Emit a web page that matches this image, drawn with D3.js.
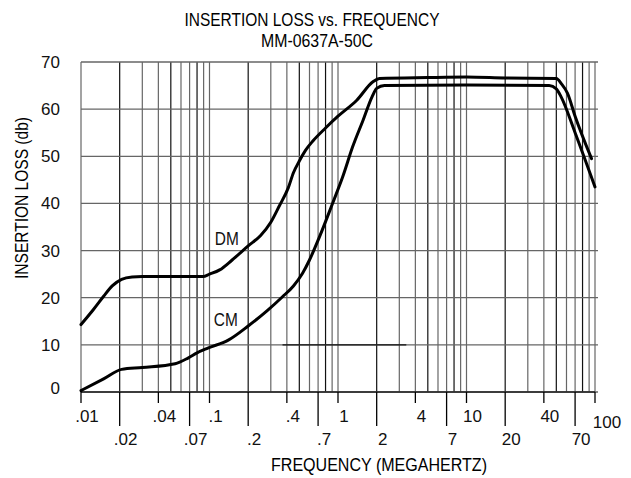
<!DOCTYPE html>
<html>
<head>
<meta charset="utf-8">
<script src="https://cdn.jsdelivr.net/npm/d3@7"></script>
<style>
  html, body { margin: 0; padding: 0; background: #fff; }
  svg { display: block; font-family: "Liberation Sans", Arial, sans-serif; }
</style>
</head>
<body>
<svg id="chart" width="631" height="478"></svg>
<script>
// ---- data ----
const titleText = "INSERTION LOSS vs. FREQUENCY";
const subtitleText = "MM-0637A-50C";
const xTitle = "FREQUENCY (MEGAHERTZ)";
const yTitle = "INSERTION LOSS (db)";

const yTicks = [0, 10, 20, 30, 40, 50, 60, 70];
const xTicksUpper = [0.01, 0.04, 0.1, 0.4, 1, 4, 10, 40];
const xTicksLower = [0.02, 0.07, 0.2, 0.7, 2, 7, 20, 70];
const xTickEnd = [100];
const xTickLabels = {0.01: ".01", 0.02: ".02", 0.04: ".04", 0.07: ".07", 0.1: ".1", 0.2: ".2",
  0.4: ".4", 0.7: ".7", 1: "1", 2: "2", 4: "4", 7: "7", 10: "10", 20: "20", 40: "40", 70: "70", 100: "100"};

// DM curve (frequency MHz, insertion loss dB)
const dmFreq = [0.01, 0.0125, 0.015, 0.0175, 0.0207, 0.025, 0.03, 0.05, 0.089, 0.1, 0.12, 0.15, 0.2, 0.25, 0.3, 0.35, 0.41, 0.45, 0.5, 0.56, 0.64, 0.8, 1.0, 1.4, 1.87, 2.1, 5, 10, 20, 50, 55, 61, 70, 94];
const dmLoss = [14.3, 17.5, 20.3, 22.5, 23.9, 24.4, 24.5, 24.5, 24.5, 25.0, 25.9, 28.0, 31.0, 33.2, 36.0, 39.5, 43.3, 46.5, 49.0, 51.3, 53.3, 56.0, 58.5, 61.9, 65.8, 66.5, 66.7, 66.8, 66.6, 66.5, 65.3, 63.4, 58.5, 49.5];

// CM curve
const cmFreq = [0.01, 0.015, 0.0207, 0.03, 0.054, 0.068, 0.08, 0.097, 0.14, 0.2, 0.28, 0.37, 0.45, 0.53, 0.6, 0.72, 0.91, 1.09, 1.3, 1.57, 1.84, 2.0, 2.3, 10, 44, 50, 54.5, 70, 100];
const cmLoss = [0.3, 2.8, 4.8, 5.2, 6.0, 7.2, 8.3, 9.3, 11.0, 14.0, 17.2, 20.2, 22.5, 25.2, 28.0, 33.0, 40.1, 45.7, 52.0, 57.7, 62.6, 64.4, 65.0, 65.1, 65.0, 64.3, 62.6, 55.0, 43.5];

const curveLabels = ["DM", "CM"];
// darker segment on the 10 dB grid line (as printed)
const darkSegFreq = [0.37, 3.4];
const darkSegLoss = 10;

// ---- chart ----
const svg = d3.select("#chart");
const x = d3.scaleLog().domain([0.01, 100]).range([81, 595]);
const y = d3.scaleLinear().domain([0, 70]).range([392, 62]);

// vertical grid lines: 1..9 x each decade
const gridX = [];
[0.01, 0.1, 1, 10].forEach(d => { for (let k = 1; k <= 9; k++) gridX.push(+(d * k).toPrecision(3)); });
gridX.push(100);

svg.append("g").selectAll("line").data(gridX).join("line")
  .attr("x1", d => x(d)).attr("x2", d => x(d))
  .attr("y1", y(70)).attr("y2", y(0))
  .attr("stroke", (d, i) => (i % 3 === 1 ? "#111" : "#666"))
  .attr("stroke-width", 1.2);

svg.append("g").selectAll("line").data(yTicks).join("line")
  .attr("x1", x(0.01)).attr("x2", x(100) + 3)
  .attr("y1", d => y(d)).attr("y2", d => y(d))
  .attr("stroke", "#666").attr("stroke-width", 1.3);

svg.append("line")
  .attr("x1", x(darkSegFreq[0])).attr("x2", x(darkSegFreq[1]))
  .attr("y1", y(darkSegLoss)).attr("y2", y(darkSegLoss))
  .attr("stroke", "#111").attr("stroke-width", 1.3);

// x axis baseline
svg.append("line").attr("x1", x(0.01)).attr("x2", x(100))
  .attr("y1", y(0)).attr("y2", y(0)).attr("stroke", "#222").attr("stroke-width", 1.3);

// bottom ticks
const tickG = svg.append("g");
tickG.selectAll("line.up").data(xTicksUpper.concat(xTickEnd)).join("line")
  .attr("x1", d => x(d)).attr("x2", d => x(d))
  .attr("y1", y(0)).attr("y2", y(0) + 11)
  .attr("stroke", "#000").attr("stroke-width", 1.3);
tickG.selectAll("line.lo").data(xTicksLower).join("line")
  .attr("x1", d => x(d)).attr("x2", d => x(d))
  .attr("y1", y(0)).attr("y2", y(0) + 34)
  .attr("stroke", "#000").attr("stroke-width", 1.3);

const lbl = svg.append("g").attr("font-size", 17).attr("fill", "#111");
lbl.selectAll("text.u").data(xTicksUpper).join("text")
  .attr("x", d => x(d) + 6).attr("y", y(0) + 30)
  .attr("text-anchor", "middle").text(d => xTickLabels[d]);
lbl.selectAll("text.l").data(xTicksLower).join("text")
  .attr("x", d => x(d) + 6).attr("y", y(0) + 53)
  .attr("text-anchor", "middle").text(d => xTickLabels[d]);
lbl.selectAll("text.e").data(xTickEnd).join("text")
  .attr("x", d => x(d) + 12).attr("y", y(0) + 36)
  .attr("text-anchor", "middle").text(d => xTickLabels[d]);

// y labels
lbl.selectAll("text.y").data(yTicks).join("text")
  .attr("x", 60).attr("y", d => y(d) + (d === 0 ? 2 : 6))
  .attr("text-anchor", "end").text(d => d);

// curves
const line = d3.line().x(d => x(d[0])).y(d => y(d[1])).curve(d3.curveMonotoneX);
const dm = d3.zip(dmFreq, dmLoss);
const cm = d3.zip(cmFreq, cmLoss);
[dm, cm].forEach(s => {
  svg.append("path").datum(s).attr("d", line)
    .attr("fill", "none").attr("stroke", "#000").attr("stroke-width", 3)
    .attr("stroke-linejoin", "round").attr("stroke-linecap", "round");
});

// curve labels
const labelAt = [[0.11, 31.2], [0.108, 13.9]];
svg.append("g").attr("font-size", 18).attr("fill", "#111")
  .selectAll("text").data(curveLabels).join("text")
  .attr("x", (d, i) => x(labelAt[i][0])).attr("y", (d, i) => y(labelAt[i][1]))
  .attr("textLength", 24).attr("lengthAdjust", "spacingAndGlyphs")
  .text(d => d);

// titles
svg.append("text").attr("x", 312).attr("y", 26).attr("text-anchor", "middle")
  .attr("font-size", 19).attr("textLength", 255).attr("lengthAdjust", "spacingAndGlyphs")
  .text(titleText);
svg.append("text").attr("x", 317).attr("y", 47).attr("text-anchor", "middle")
  .attr("font-size", 17.5).attr("textLength", 112).attr("lengthAdjust", "spacingAndGlyphs")
  .text(subtitleText);
svg.append("text").attr("x", 379).attr("y", 471).attr("text-anchor", "middle")
  .attr("font-size", 18).attr("textLength", 216).attr("lengthAdjust", "spacingAndGlyphs")
  .text(xTitle);
svg.append("text").attr("transform", "translate(28,198) rotate(-90)").attr("text-anchor", "middle")
  .attr("font-size", 18.5).attr("textLength", 162).attr("lengthAdjust", "spacingAndGlyphs")
  .text(yTitle);
</script>
</body>
</html>
